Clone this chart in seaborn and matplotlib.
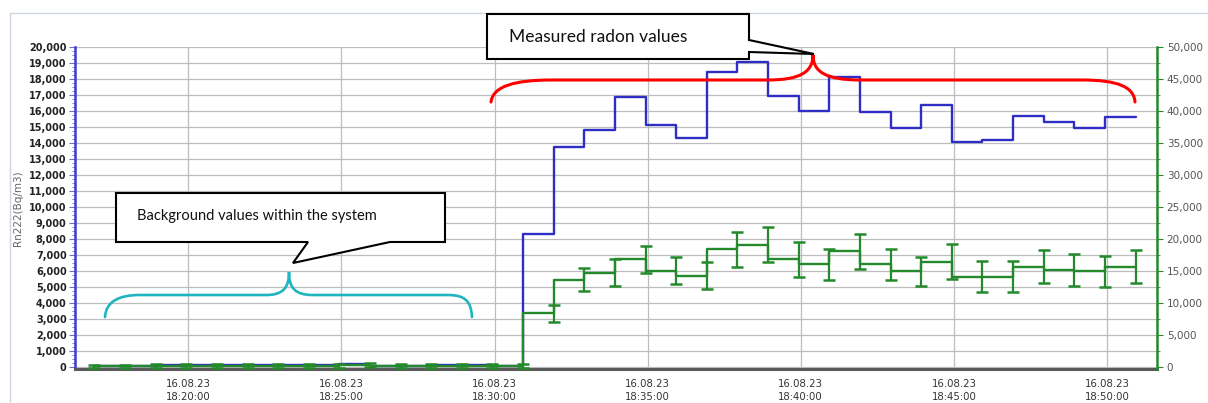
import pandas as pd
import matplotlib
matplotlib.use("Agg")
import matplotlib.pyplot as plt
from matplotlib.ticker import MultipleLocator
from matplotlib.path import Path
from matplotlib.patches import PathPatch, Polygon, Rectangle
import seaborn as sns

DATE = "2023-08-16"

# measurement end times (one reading per minute)
times = [
    "18:16:56", "18:17:56", "18:18:56", "18:19:56", "18:20:56", "18:21:56",
    "18:22:56", "18:23:56", "18:24:56", "18:25:56", "18:26:56", "18:27:56",
    "18:28:56", "18:29:56", "18:30:56", "18:31:56", "18:32:56", "18:33:56",
    "18:34:56", "18:35:56", "18:36:56", "18:37:56", "18:38:56", "18:39:56",
    "18:40:56", "18:41:56", "18:42:56", "18:43:56", "18:44:56", "18:45:56",
    "18:46:56", "18:47:56", "18:48:56", "18:49:56", "18:50:56",
]

# Rn222 on the left axis (Bq/m3)
radon = [
    20, 20, 30, 110, 120, 100, 90, 110, 120, 200, 30, 20, 110, 100, 70,
    8300, 13750, 14800, 16900, 15100, 14300, 18450, 19080, 16950, 16000,
    18100, 15950, 14950, 16400, 14050, 14200, 15700, 15300, 14950, 15650,
]

# second series on the right axis, with its uncertainty
radon_right = [
    50, 50, 60, 150, 150, 120, 100, 130, 150, 250, 80, 60, 150, 140, 100,
    8350, 13600, 14700, 16800, 15050, 14250, 18350, 19100, 16800, 16000,
    18050, 16000, 14900, 16450, 14100, 14100, 15650, 15150, 14900, 15650,
]
radon_right_err = [
    300, 300, 300, 300, 300, 300, 300, 300, 300, 300, 300, 300, 300, 300, 300,
    1300, 1800, 2100, 2150, 2050, 2100, 2700, 2750, 2750, 2400,
    2750, 2400, 2300, 2750, 2400, 2400, 2550, 2450, 2450, 2550,
]

tick_times = ["18:20:00", "18:25:00", "18:30:00", "18:35:00",
              "18:40:00", "18:45:00", "18:50:00"]

W, H = 1208, 403
BLUE = "#2e2ec4"
GREEN = "#23892a"

df = pd.DataFrame({
    "time": pd.to_datetime([f"{DATE} {t}" for t in times]),
    "radon": radon,
    "right": radon_right,
    "err": radon_right_err,
})

sns.set_theme(style="white")
plt.rcParams["font.family"] = ["DejaVu Sans"]

fig = plt.figure(figsize=(W / 100, H / 100), dpi=100)
fig.patch.set_facecolor("white")


def px(x, y):
    return (x / W, 1 - y / H)


ax = fig.add_axes([75 / W, 1 - 369 / H, (1157 - 75) / W, (369 - 47) / H])

sns.lineplot(data=df, x="time", y="radon", ax=ax, color=BLUE, lw=1.7,
             drawstyle="steps-pre", zorder=3)

ax2 = ax.twinx()
sns.lineplot(data=df, x="time", y="right", ax=ax2, color=GREEN, lw=1.7,
             drawstyle="steps-pre", zorder=3)
ax2.errorbar(df["time"], df["right"], yerr=df["err"], fmt="none",
             ecolor=GREEN, elinewidth=1.6, capsize=4, capthick=1.8, zorder=3)

ax.set_xlim(pd.Timestamp(f"{DATE} 18:16:18"), pd.Timestamp(f"{DATE} 18:51:38"))
ax.set_ylim(-140, 20000)
ax2.set_ylim(-350, 50000)

# x axis
xt = pd.to_datetime([f"{DATE} {t}" for t in tick_times])
ax.set_xticks(xt, labels=[t.strftime("%d.%m.%y\n%H:%M:%S") for t in xt],
              linespacing=1.4, fontsize=7.3, color="#333333")
ax.xaxis.set_minor_locator(MultipleLocator(1.25 / 1440))
ax.tick_params(axis="x", which="major", length=4, width=0.8, color="#888888", pad=3)
ax.tick_params(axis="x", which="minor", length=3, width=0.8, color="#888888")

# left axis
lt = list(range(0, 20001, 1000))
ax.set_yticks(lt, labels=[f"{v:,}" for v in lt], fontsize=7,
              fontweight="bold", color="#222222")
ax.yaxis.set_minor_locator(MultipleLocator(250))
ax.tick_params(axis="y", which="major", length=4, width=0.8, color="#7070c0", pad=2)
ax.tick_params(axis="y", which="minor", length=2, width=0.6, color="#7070c0")
ax.set_ylabel("Rn222(Bq/m3)", fontsize=7.5, color="#666666", labelpad=4)
ax.set_xlabel("")

# right axis
rt = list(range(0, 50001, 5000))
ax2.set_yticks(rt, labels=[f"{v:,}" for v in rt], fontsize=7.5, color="#555555")
ax2.yaxis.set_minor_locator(MultipleLocator(2500))
ax2.tick_params(axis="y", which="major", length=4, width=0.8, color=GREEN, pad=3)
ax2.tick_params(axis="y", which="minor", length=2, width=0.6, color=GREEN)
ax2.set_ylabel("")

ax.grid(True, axis="both", which="major", color="#bdbdbd", lw=0.9)
ax2.grid(False)

for s in ["top", "right"]:
    ax.spines[s].set_visible(False)
ax.spines["left"].set_color("#3a3ad8")
ax.spines["left"].set_linewidth(1.8)
ax.spines["bottom"].set_color("#5a5a5a")
ax.spines["bottom"].set_linewidth(2.2)
for s in ["top", "left", "bottom"]:
    ax2.spines[s].set_visible(False)
ax2.spines["right"].set_color(GREEN)
ax2.spines["right"].set_linewidth(1.8)

# outer frame of the chart control
fig.add_artist(Rectangle(px(9.5, 500), 1500 / W, (500 - 13.3) / H,
                         transform=fig.transFigure, fill=False,
                         ec="#cdd5e0", lw=1.0))


def brace(points, codes, color, lw):
    verts = [px(x, y) for x, y in points]
    fig.add_artist(PathPatch(Path(verts, codes), transform=fig.transFigure,
                             fill=False, ec=color, lw=lw, capstyle="round",
                             zorder=5))


M, C, L = Path.MOVETO, Path.CURVE4, Path.LINETO

# red brace over the measured values
brace([(491, 102), (493, 86), (515, 80), (552, 80), (768, 80),
       (800, 80), (813, 72), (813, 55),
       (813, 72), (826, 80), (861, 80), (1082, 80),
       (1118, 80), (1134, 87), (1135, 102)],
      [M, C, C, C, L, C, C, C, C, C, C, L, C, C, C], "#ff0000", 2.2)

# cyan brace over the background values
brace([(105, 317), (106, 302), (118, 295), (140, 295), (266, 295),
       (283, 295), (289, 288), (289, 272),
       (289, 288), (295, 295), (313, 295), (448, 295),
       (466, 295), (471, 302), (472, 317)],
      [M, C, C, C, L, C, C, C, C, C, C, L, C, C, C], "#1eb4c0", 1.9)


def callout(points, text, tx, ty, size):
    fig.add_artist(Polygon([px(x, y) for x, y in points], closed=True,
                           transform=fig.transFigure, fc="white", ec="black",
                           lw=1.5, joinstyle="miter", zorder=6))
    fig.text(*px(tx, ty), text, fontsize=size, family=["Lato", "DejaVu Sans"],
             color="#111111", va="center", ha="left", zorder=7)


callout([(116, 193), (445, 193), (445, 242), (390, 242), (293, 263),
         (308, 242), (116, 242)],
        "Background values within the system", 137, 216, 10.5)

callout([(487, 14), (749, 14), (749, 40), (814, 54), (749, 52),
         (749, 59), (487, 59)],
        "Measured radon values", 509, 37, 12.5)

fig.savefig("out.png", dpi=100, facecolor="white")
